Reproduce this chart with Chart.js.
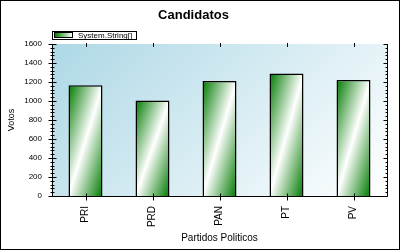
<!DOCTYPE html>
<html>
<head>
<meta charset="utf-8">
<script src="https://cdn.jsdelivr.net/npm/chart.js"></script>
<style>
    html, body { margin: 0; padding: 0; background: #fff; }
</style>
</head>
<body>
<canvas id="chart" width="400" height="250"></canvas>
<script>
// datos de la grafica
const partidos = ['PRI', 'PRD', 'PAN', 'PT', 'PV'];
const votos = [1165, 1005, 1210, 1290, 1220];
const serieNombre = 'System.String[]';
const yMax = 1600;
const yStep = 200;
const yMinorStep = 40;

const FONT = "'Liberation Sans', Arial, sans-serif";
const BAR_PCT = 0.507;

// gradiente verde-blanco-verde de cada barra (diagonal inversa blanca)
function barFill(context) {
    const chart = context.chart;
    if (!chart.chartArea || context.type !== 'data') return '#008000';
    const xs = chart.scales.x, ys = chart.scales.y;
    const w = xs.width / partidos.length * BAR_PCT;
    const left = xs.getPixelForValue(context.dataIndex) - w / 2;
    const top = ys.getPixelForValue(context.raw);
    const h = ys.getPixelForValue(0) - top;
    if (h <= 0) return '#008000';
    const k = 2 * w * h / (w * w + h * h);
    const g = chart.ctx.createLinearGradient(left, top, left + h * k, top + w * k);
    g.addColorStop(0, '#007a00');
    g.addColorStop(0.5, '#ffffff');
    g.addColorStop(1, '#007a00');
    return g;
}

const marco = {
    id: 'marco',
    beforeDraw(chart) {
        const { ctx, chartArea: a } = chart;
        ctx.save();
        ctx.fillStyle = '#ffffff';
        ctx.fillRect(0, 0, chart.width, chart.height);
        const s = (a.width + a.height) / 2;
        const g = ctx.createLinearGradient(a.left, a.top, a.left + s, a.top + s);
        g.addColorStop(0, '#add8e6');
        g.addColorStop(1, '#ffffff');
        ctx.fillStyle = g;
        ctx.fillRect(a.left, a.top, a.width, a.height);
        ctx.restore();
    },
    afterDraw(chart) {
        const { ctx, chartArea: a } = chart;
        const xs = chart.scales.x, ys = chart.scales.y;
        const L = Math.round(a.left) + 0.5;
        const R = Math.round(a.right) + 0.5;
        const B = Math.round(a.bottom) + 0.5;
        const T = Math.round(a.top);
        ctx.save();
        ctx.strokeStyle = '#000';
        ctx.lineWidth = 1;
        ctx.beginPath();
        // ejes
        ctx.moveTo(L, T); ctx.lineTo(L, B); ctx.lineTo(R, B); ctx.lineTo(R, T);
        // marcas del eje y
        for (let v = 0; v <= yMax; v += yMinorStep) {
            const y = Math.round(ys.getPixelForValue(v)) + 0.5;
            const major = v % yStep === 0;
            ctx.moveTo(L - (major ? 4 : 2), y); ctx.lineTo(L + (major ? 4 : 2), y);
            ctx.moveTo(R - (major ? 4 : 2), y); ctx.lineTo(R, y);
        }
        // marcas del eje x
        partidos.forEach((p, i) => {
            const x = Math.round(xs.getPixelForValue(i)) + 0.5;
            ctx.moveTo(x, B - 3); ctx.lineTo(x, B + 4);
            ctx.moveTo(x, T - 1); ctx.lineTo(x, T + 3);
        });
        ctx.stroke();

        // leyenda
        ctx.strokeRect(52.5, 31.5, 84, 8);
        const lg = ctx.createLinearGradient(55, 0, 72, 0);
        lg.addColorStop(0, '#008000');
        lg.addColorStop(1, '#ffffff');
        ctx.fillStyle = lg;
        ctx.fillRect(55, 33, 17, 4);
        ctx.strokeRect(54.5, 32.5, 18, 5);
        ctx.fillStyle = '#000';
        ctx.font = '8px ' + FONT;
        ctx.textBaseline = 'middle';
        ctx.textAlign = 'left';
        ctx.fillText(chart.data.datasets[0].label, 78, 35.5);

        // borde exterior
        ctx.strokeRect(0.5, 0.5, chart.width - 1, chart.height - 1);
        ctx.restore();
    }
};

new Chart(document.getElementById('chart'), {
    type: 'bar',
    data: {
        labels: partidos,
        datasets: [{
            label: serieNombre,
            data: votos,
            backgroundColor: barFill,
            borderColor: '#000000',
            borderWidth: 1.5,
            barPercentage: BAR_PCT,
            categoryPercentage: 1
        }]
    },
    options: {
        responsive: false,
        animation: false,
        devicePixelRatio: 1,
        layout: { padding: { left: 0, right: 13, top: 0, bottom: 0 } },
        plugins: {
            legend: { display: false },
            tooltip: { enabled: false },
            title: {
                display: true,
                text: 'Candidatos',
                color: '#000',
                font: { family: FONT, size: 13, weight: 'bold' },
                padding: { top: 7.5, bottom: 20.9 }
            }
        },
        scales: {
            x: {
                grid: { display: false, drawTicks: false },
                border: { display: false },
                ticks: {
                    minRotation: 90,
                    maxRotation: 90,
                    padding: 10,
                    color: '#000',
                    font: { family: FONT, size: 10 }
                },
                title: {
                    display: true,
                    text: 'Partidos Politicos',
                    color: '#000',
                    font: { family: FONT, size: 10 },
                    padding: { top: 0, bottom: 5.5 }
                },
                afterFit(scale) { scale.height = 54; }
            },
            y: {
                min: 0,
                max: yMax,
                grid: { display: false, drawTicks: false },
                border: { display: false },
                ticks: {
                    stepSize: yStep,
                    padding: 10,
                    color: '#000',
                    font: { family: FONT, size: 8 },
                    callback: (value) => String(value)
                },
                title: {
                    display: true,
                    text: 'Votos',
                    color: '#000',
                    font: { family: FONT, size: 9 },
                    padding: { top: 6.6, bottom: 0 }
                },
                afterFit(scale) { scale.width = 52; }
            }
        }
    },
    plugins: [marco]
});
</script>
</body>
</html>
